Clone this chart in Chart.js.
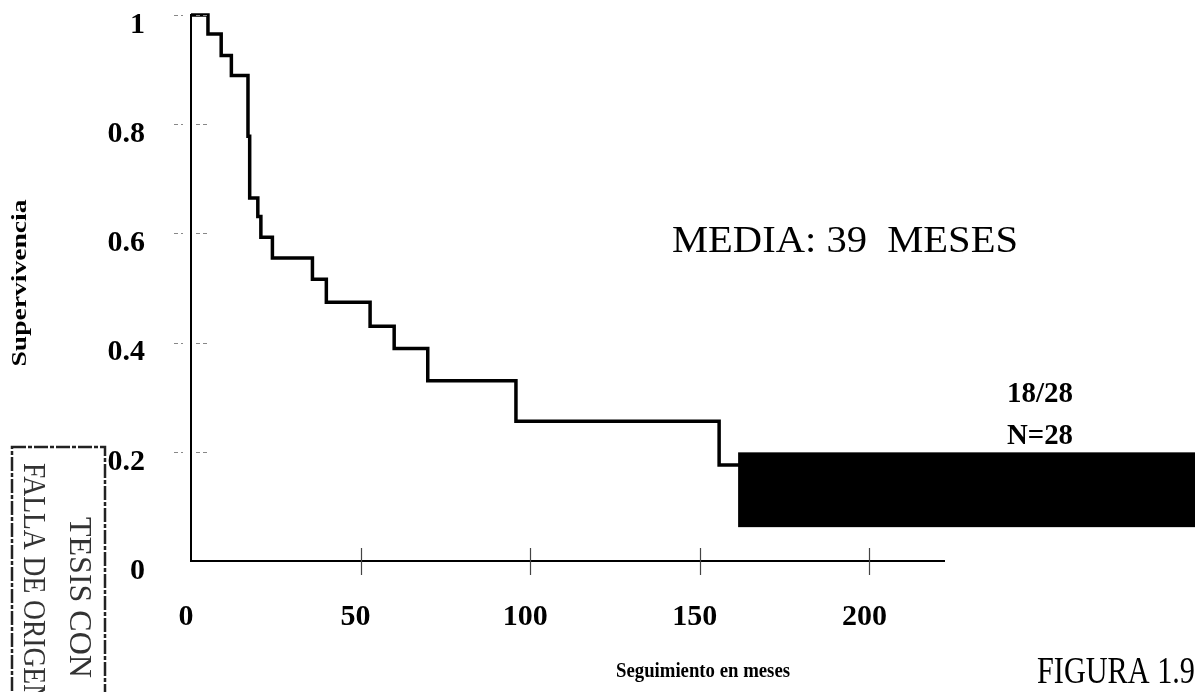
<!DOCTYPE html>
<html>
<head>
<meta charset="utf-8">
<script src="https://cdn.jsdelivr.net/npm/chart.js@4.4.1/dist/chart.umd.min.js"></script>
<style>
  html, body { margin: 0; padding: 0; background: #ffffff; }
  #wrap { width: 1195px; height: 692px; position: relative; }
</style>
</head>
<body>
<div id="wrap"><canvas id="c" width="1195" height="692"></canvas></div>
<script>
// ---- data (Kaplan-Meier step curve) ----
const months   = [0, 5.0, 8.9, 11.9, 16.8, 17.3, 19.7, 20.6, 24.0, 35.8, 39.9, 52.8, 59.9, 69.8, 95.8, 155.7, 165];
const survival = [1, 0.965, 0.926, 0.889, 0.778, 0.665, 0.631, 0.593, 0.555, 0.516, 0.474, 0.430, 0.389, 0.330, 0.256, 0.176, 0.176];
const xTickValues = [0, 50, 100, 150, 200];
const yTickValues = [0, 0.2, 0.4, 0.6, 0.8, 1];
const xMax = 222;
// black redaction block (data units): starts at month 161.3, spans survival 0.062..0.199
const blockStartMonth = 161.3;
const blockSurv = [0.062, 0.199];

const SERIF = '"Liberation Serif", "Times New Roman", serif';

function drawText(ctx, s, x, y, font, o) {
  o = o || {};
  ctx.save();
  ctx.font = font;
  ctx.fillStyle = o.color || '#000';
  ctx.textAlign = o.align || 'left';
  ctx.textBaseline = 'middle';
  ctx.translate(x, y);
  if (o.rot) ctx.rotate(o.rot);
  if (o.width) {
    const w = ctx.measureText(s).width;
    ctx.scale(o.width / w, 1);
  } else if (o.sx) {
    ctx.scale(o.sx, 1);
  }
  ctx.fillText(s, 0, 0);
  ctx.restore();
}

const decor = {
  id: 'decor',
  afterDatasetsDraw(chart) {
    const ctx = chart.ctx;
    const xs = chart.scales.x, ys = chart.scales.y;
    const area = chart.chartArea;
    // tick marks crossing the x axis
    ctx.save();
    ctx.strokeStyle = '#444';
    ctx.lineWidth = 1.2;
    xTickValues.forEach(v => {
      if (v === 0) return;
      const px = Math.round(xs.getPixelForValue(v)) + 0.5;
      ctx.beginPath();
      ctx.moveTo(px, area.bottom - 13);
      ctx.lineTo(px, area.bottom + 14);
      ctx.stroke();
    });
    // faint dashed tick marks on the y axis
    ctx.setLineDash([4, 3]);
    ctx.strokeStyle = '#888';
    ctx.lineWidth = 1;
    yTickValues.forEach(v => {
      if (v === 0) return;
      const py = Math.round(ys.getPixelForValue(v)) + 0.5;
      ctx.beginPath();
      ctx.moveTo(area.left - 17, py);
      ctx.lineTo(area.left - 8, py);
      ctx.moveTo(area.left + 5, py);
      ctx.lineTo(area.left + 17, py);
      ctx.stroke();
    });
    ctx.restore();

    // black block
    const bx = xs.getPixelForValue(blockStartMonth);
    const by0 = ys.getPixelForValue(blockSurv[1]);
    const by1 = ys.getPixelForValue(blockSurv[0]);
    ctx.save();
    ctx.fillStyle = '#000';
    ctx.fillRect(bx, by0, chart.width - bx, by1 - by0);
    ctx.restore();

    // texts
    drawText(ctx, 'MEDIA: 39  MESES', 672, 242, '37px ' + SERIF, { width: 346 });
    drawText(ctx, '18/28', 1040, 395, 'bold 29px ' + SERIF, { align: 'center', width: 66 });
    drawText(ctx, 'N=28', 1040, 437, 'bold 29px ' + SERIF, { align: 'center', width: 66 });
    drawText(ctx, 'Seguimiento en meses', 703, 672, 'bold 21px ' + SERIF, { align: 'center', width: 174 });
    drawText(ctx, 'FIGURA 1.9', 1037, 673, '37px ' + SERIF, { width: 158 });
    drawText(ctx, 'Supervivencia', 20, 283, 'bold 22px ' + SERIF, { align: 'center', rot: -Math.PI / 2, width: 167 });

    // stamp at bottom-left
    ctx.save();
    ctx.strokeStyle = '#222';
    ctx.lineWidth = 2.5;
    ctx.setLineDash([14, 2, 4, 2]);
    ctx.strokeRect(12, 447, 93, 260);
    ctx.restore();
    drawText(ctx, 'TESIS CON', 78, 517, '32px ' + SERIF, { rot: Math.PI / 2, color: '#333', sx: 1.0 });
    drawText(ctx, 'FALLA DE ORIGEN', 32, 463, '32px ' + SERIF, { rot: Math.PI / 2, color: '#333', sx: 0.86 });
  }
};

const ctx = document.getElementById('c').getContext('2d');
new Chart(ctx, {
  type: 'line',
  data: {
    datasets: [{
      data: months.map((m, i) => ({ x: m, y: survival[i] })),
      stepped: true,
      borderColor: '#000',
      borderWidth: 3.5,
      pointRadius: 0,
      fill: false,
      clip: false,
      tension: 0
    }]
  },
  options: {
    responsive: false,
    devicePixelRatio: 1,
    animation: false,
    events: [],
    layout: { padding: { top: 15, right: 251, left: 0, bottom: 0 } },
    plugins: { legend: { display: false }, tooltip: { enabled: false }, title: { display: false } },
    scales: {
      x: {
        type: 'linear',
        min: 0,
        max: xMax,
        afterBuildTicks: s => { s.ticks = xTickValues.map(v => ({ value: v })); },
        afterFit: s => { s.height = 692 - 561; },
        grid: { display: true, drawOnChartArea: false, drawTicks: false },
        border: { display: true, color: '#000', width: 2 },
        ticks: {
          color: '#000',
          font: { family: SERIF, size: 30, weight: 'bold' },
          padding: 38,
          labelOffset: -5,
          maxRotation: 0,
          autoSkip: false
        }
      },
      y: {
        type: 'linear',
        min: 0,
        max: 1,
        afterBuildTicks: s => { s.ticks = yTickValues.map(v => ({ value: v })); },
        afterFit: s => { s.width = 191; },
        grid: { display: true, drawOnChartArea: false, drawTicks: true, tickLength: 46, color: 'rgba(0,0,0,0)' },
        border: { display: true, color: '#000', width: 2 },
        ticks: {
          color: '#000',
          font: { family: SERIF, size: 30, weight: 'bold', lineHeight: 1 },
          padding: 0,
          labelOffset: 10,
          callback: v => String(v)
        }
      }
    }
  },
  plugins: [decor]
});
</script>
</body>
</html>
